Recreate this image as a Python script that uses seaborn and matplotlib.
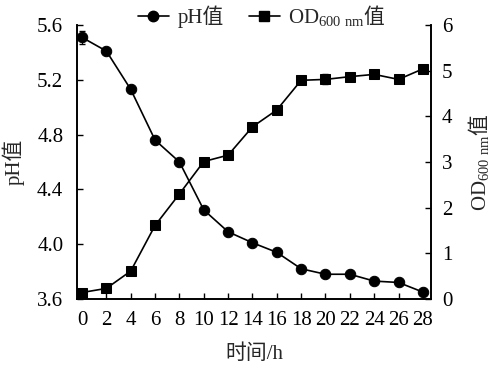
import matplotlib
matplotlib.use("Agg")
import matplotlib.pyplot as plt
import seaborn as sns
import pandas as pd
from matplotlib.lines import Line2D

time_h = [0, 2, 4, 6, 8, 10, 12, 14, 16, 18, 20, 22, 24, 26, 28]
ph_values = [5.51, 5.41, 5.13, 4.76, 4.60, 4.25, 4.09, 4.01, 3.94, 3.82, 3.78, 3.78, 3.73, 3.72, 3.65]
ph_err = [0.05, 0.01, 0.01, 0.01, 0.01, 0.01, 0.01, 0.01, 0.01, 0.01, 0.01, 0.01, 0.01, 0.01, 0.01]
od_values = [0.14, 0.23, 0.61, 1.61, 2.30, 3.01, 3.15, 3.77, 4.14, 4.79, 4.81, 4.87, 4.92, 4.81, 5.04]
od_err = [0.02, 0.02, 0.02, 0.03, 0.03, 0.03, 0.03, 0.03, 0.03, 0.04, 0.11, 0.05, 0.04, 0.04, 0.04]

ph_ticks = [3.6, 4.0, 4.4, 4.8, 5.2, 5.6]
od_ticks = [0, 1, 2, 3, 4, 5, 6]

sns.set_style("ticks")
plt.rcParams['font.family'] = ['Liberation Serif', 'Noto Sans CJK SC']
plt.rcParams['mathtext.fontset'] = 'custom'
plt.rcParams['mathtext.rm'] = 'Noto Sans CJK SC'
plt.rcParams['mathtext.sf'] = 'Liberation Serif'
plt.rcParams['mathtext.it'] = 'Liberation Serif'
plt.rcParams['mathtext.bf'] = 'Liberation Serif:bold'

OD_LABEL = r"$\mathsf{OD}_{\mathsf{600\ nm}}\mathrm{值}$"

df = pd.DataFrame({"t": time_h, "ph": ph_values, "od": od_values})

fig = plt.figure(figsize=(4.98, 3.69), dpi=100)
ax = fig.add_axes([0.155, 0.19, 0.71, 0.742])
ax2 = ax.twinx()

fs = 15
ms_c, ms_s = 7.5, 6.8
sns.lineplot(data=df, x="t", y="ph", ax=ax, color="black", marker="o",
             markersize=ms_c, linewidth=1.2, markeredgecolor="black")
ax.errorbar(time_h, ph_values, yerr=ph_err, fmt="none", ecolor="black",
            elinewidth=0.8, capsize=2)
sns.lineplot(data=df, x="t", y="od", ax=ax2, color="black", marker="s",
             markersize=ms_s, linewidth=1.2, markeredgecolor="black")
ax2.errorbar(time_h, od_values, yerr=od_err, fmt="none", ecolor="black",
             elinewidth=0.8, capsize=2)

ax.set_xlim(-0.4, 28.65)
ax.set_ylim(3.6, 5.6)
ax2.set_ylim(0, 6)
ax.set_xticks(time_h)
ax.set_yticks(ph_ticks)
ax.set_yticklabels([f"{v:.1f}" for v in ph_ticks])
ax2.set_yticks(od_ticks)

for a in (ax, ax2):
    a.tick_params(direction="in", length=4, width=1, labelsize=fs, colors="black")
    for s in a.spines.values():
        s.set_linewidth(1.2)
        s.set_color("black")
ax.spines["top"].set_visible(False)
ax2.spines["top"].set_visible(False)
ax2.spines["right"].set_visible(True)
ax.tick_params(axis="x", pad=9)
ax.tick_params(axis="y", pad=10)
ax2.tick_params(axis="y", pad=8)

ax.set_xlabel("时间/h", fontsize=fs, labelpad=10)
ax.set_ylabel("pH值", fontsize=fs, labelpad=9)
ax2.set_ylabel(OD_LABEL, fontsize=fs, labelpad=10)

handles = [
    Line2D([], [], color="black", marker="o", markersize=ms_c, linewidth=1.2),
    Line2D([], [], color="black", marker="s", markersize=ms_s, linewidth=1.2),
]
fig.legend(handles, ["pH值", OD_LABEL], loc="center",
           bbox_to_anchor=(0.525, 0.958), ncol=2, frameon=False, fontsize=fs,
           handlelength=1.5, columnspacing=1.2, handletextpad=0.4,
           borderaxespad=0)

fig.savefig("out.png", dpi=100, facecolor="white")
